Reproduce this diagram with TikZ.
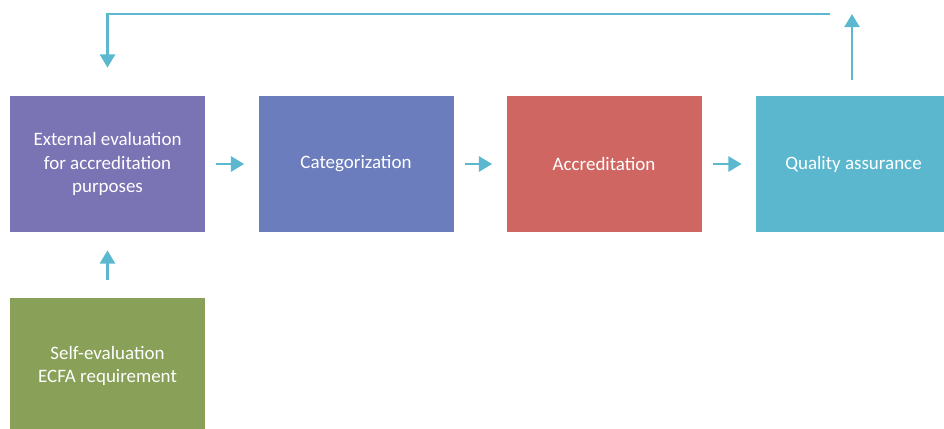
\documentclass[tikz,border=0pt]{standalone}
\usepackage{fontspec}
\setmainfont{Carlito}
\usetikzlibrary{arrows.meta}

\begin{document}
\begin{tikzpicture}
  % Definir colores
  \definecolor{colorexterna}{RGB}{123, 116, 180}
  \definecolor{colorcateg}{RGB}{108, 125, 190}
  \definecolor{coloracred}{RGB}{208, 102, 98}
  \definecolor{colorcalidad}{RGB}{91, 183, 206}
  \definecolor{colorauto}{RGB}{136, 160, 87}
  \definecolor{colorflecha}{RGB}{91, 184, 207}

  % Configurar estilo de nodos
  \tikzset{
    caja/.style={minimum width=3.9cm, minimum height=2.72cm, text=white, align=center, inner sep=0pt,
      font=\fontsize{10.8}{13.3}\selectfont},
    flecha/.style={draw=colorflecha, line width=1.6pt, -{Triangle[width=8.5pt, length=7.5pt]}}
  }

  % Marco de la figura
  \useasboundingbox (0, 0) rectangle (18.88, 8.56);
  \clip (0, 0) rectangle (18.88, 8.56);

  % Cajas del proceso
  \node[caja, fill=colorexterna] (externa) at (2.15, 5.28) {External evaluation\\for accreditation\\purposes};
  \node[caja, fill=colorcateg] (categ) at (7.12, 5.28) {Categorization};
  \node[caja, fill=coloracred] (acred) at (12.08, 5.28) {Accreditation};
  \node[caja, fill=colorcalidad] (calidad) at (17.07, 5.28) {Quality assurance};
  \node[caja, fill=colorauto] (auto) at (2.15, 1.24) {Self-evaluation\\ECFA requirement};

  % Flechas entre cajas
  \draw[flecha, shorten <=0.22cm, shorten >=0.28cm] (externa) -- (categ);
  \draw[flecha, shorten <=0.22cm, shorten >=0.28cm] (categ) -- (acred);
  \draw[flecha, shorten <=0.22cm, shorten >=0.28cm] (acred) -- (calidad);
  \draw[flecha, shorten <=0.36cm, shorten >=0.36cm] (auto) -- (externa);

  % Retorno por arriba
  \coordinate (tope) at (17.04, 8.28);
  \coordinate (retorno) at (16.6, 8.28);
  \draw[flecha, shorten <=0.32cm] (calidad.north -| tope) -- (tope);
  \draw[flecha, shorten >=0.56cm] (retorno) -| (externa);
\end{tikzpicture}
\end{document}
